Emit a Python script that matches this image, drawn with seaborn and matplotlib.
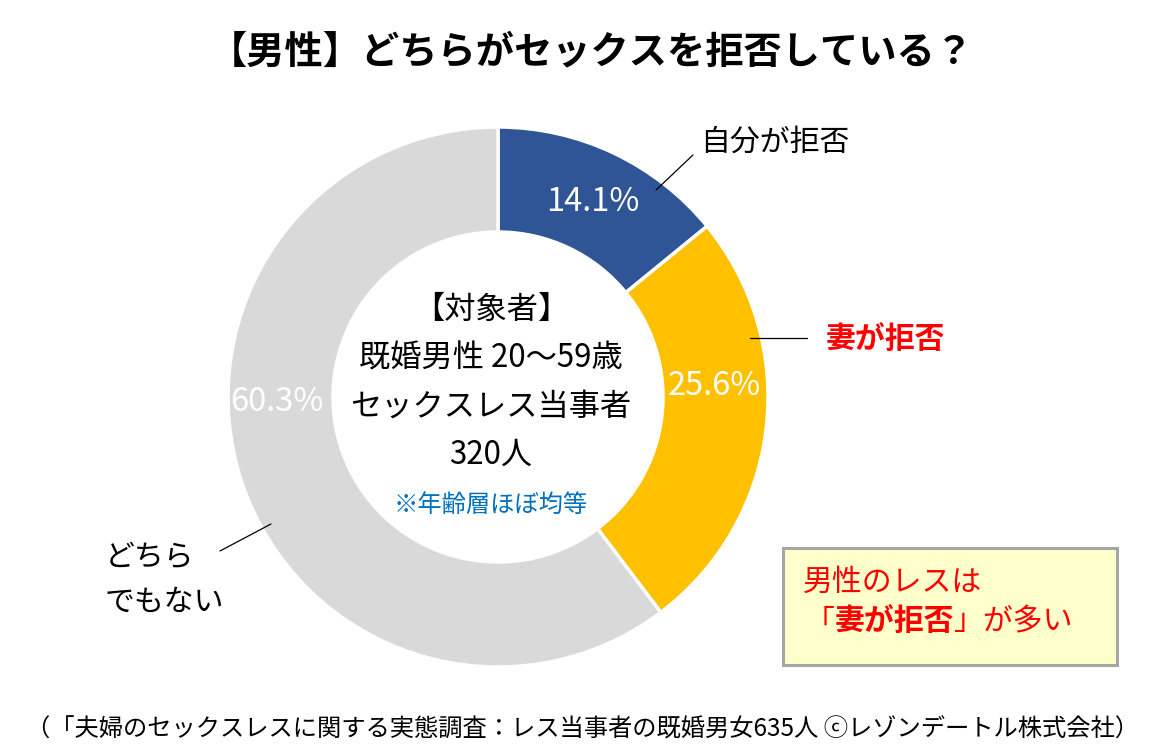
import numpy as np
import matplotlib
matplotlib.use("Agg")
import matplotlib.pyplot as plt
import seaborn as sns
from matplotlib.patches import Rectangle

# data
segments = ["自分が拒否", "妻が拒否", "どちらでもない"]
shares = [14.1, 25.6, 60.3]
seg_colors = ["#2F5597", "#FFC000", "#D9D9D9"]

title = "【男性】どちらがセックスを拒否している？"
center_lines = ["【対象者】", "既婚男性 20～59歳", "セックスレス当事者", "320人"]
center_note = "※年齢層ほぼ均等"
source = "（「夫婦のセックスレスに関する実態調査：レス当事者の既婚男女635人 ⓒレゾンデートル株式会社）"

sns.set_theme(style="white")
plt.rcParams["font.family"] = ["Noto Sans CJK JP", "DejaVu Sans"]
plt.rcParams["text.color"] = "black"

W, H = 1165, 751
fig = plt.figure(figsize=(W / 100, H / 100), dpi=100)
ax = fig.add_axes([0, 0, 1, 1])


def Y(py):
    # pixel row (from top) -> data y
    return H - py


cx, cy, R, ring = 498, Y(397), 270, 105

wedges, _ = ax.pie(shares, radius=R, center=(cx, cy), startangle=90,
                   counterclock=False, colors=seg_colors,
                   wedgeprops=dict(width=ring, edgecolor="white", linewidth=2.5))
ax.set_xlim(0, W)
ax.set_ylim(0, H)
ax.set_aspect("equal")
ax.axis("off")

# percentage labels (placed like the original, in polar terms round the centre)
pct_pos = [(64.0, 217), (2.9, 217), (181.3, 221)]
for val, (ang, r) in zip(shares, pct_pos):
    a = np.deg2rad(ang)
    ax.text(cx + r * np.cos(a), cy + r * np.sin(a), f"{val:.1f}%",
            color="white", fontsize=23.5, ha="center", va="center")

# title
ax.text(591, Y(52), title, fontsize=27.5, fontweight="bold", ha="center", va="center")

# segment labels + leader lines
ax.text(700, Y(142), segments[0], fontsize=21.5, ha="left", va="center")
ax.plot([656, 693], [Y(190), Y(155)], color="black", lw=0.9)
ax.text(826, Y(340), segments[1], fontsize=21.5, fontweight="bold", color="#FF0000",
        ha="left", va="center")
ax.plot([750, 807], [Y(338), Y(338)], color="black", lw=0.9)
ax.text(105, Y(557), "どちら", fontsize=21.5, ha="left", va="center")
ax.text(105, Y(602), "でもない", fontsize=21.5, ha="left", va="center")
ax.plot([220, 271], [Y(551), Y(524)], color="black", lw=0.9)

# centre text
for line, py in zip(center_lines, [310, 358, 407, 455]):
    ax.text(491, Y(py), line, fontsize=22.5, ha="center", va="center")
ax.text(491, Y(505), center_note, fontsize=17.5, color="#0070C0", ha="center", va="center")

# callout box
ax.add_patch(Rectangle((783, Y(665)), 1117 - 783, 665 - 548, facecolor="#FFFFCC",
                       edgecolor="#A6A6A6", linewidth=2.2))
ax.text(803, Y(582), "男性のレスは", fontsize=21.5, color="#FF0000", ha="left", va="center")

fig.canvas.draw()
renderer = fig.canvas.get_renderer()
x = 805
for part, weight in [("「", "normal"), ("妻が拒否", "bold"), ("」が多い", "normal")]:
    t = ax.text(x, Y(622), part, fontsize=21.5, color="#FF0000", fontweight=weight,
                ha="left", va="center")
    bb = t.get_window_extent(renderer)
    x = bb.x1

# source
ax.text(582, Y(730), source, fontsize=17.5, ha="center", va="center")

fig.savefig("out.png", dpi=100)
